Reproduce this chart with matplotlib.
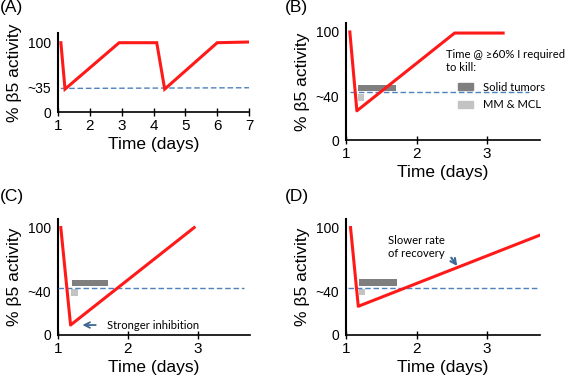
import matplotlib
matplotlib.use('Agg')
from matplotlib import pyplot as plt
from matplotlib.patches import Patch

plt.rcParams['font.family'] = ['Liberation Sans', 'DejaVu Sans']
note_font = ['Lato', 'DejaVu Sans']
note_size = 8.1

# red activity curves
a_days = [1.09, 1.22, 2.92, 4.10, 4.35, 6.0, 7.0]
a_activity = [100, 33, 100, 100, 33, 100, 101]
b_days = [1.05, 1.15, 2.54, 3.23]
b_activity = [100, 27, 99, 99]
c_days = [1.04, 1.18, 2.95]
c_activity = [100, 9, 100]
d_days = [1.06, 1.17, 3.93]
d_activity = [100, 26.5, 97.5]

# blue dashed threshold lines (x span, level)
a_thresh_x = [1.09, 7.0]
a_thresh_y = [34, 35]
bcd_thresh_level = 44
b_thresh_x = [1.05, 3.6]
c_thresh_x = [1.0, 3.67]
d_thresh_x = [1.02, 3.75]

# gray "time required to kill" bars: start, end, low, high
solid_bar = {'B': (1.17, 1.71, 45, 51), 'C': (1.20, 1.72, 45, 50.6), 'D': (1.18, 1.72, 45, 52)}
mm_bar = {'B': (1.17, 1.25, 36.5, 43), 'C': (1.19, 1.28, 36, 43), 'D': (1.18, 1.26, 37, 43)}

a_xticks = [1, 2, 3, 4, 5, 6, 7]
bcd_xticks = [1, 2, 3]
a_yticks = [0, 35, 100]
a_yticklabels = ['0', '~35', '100']
bcd_yticks = [0, 40, 100]
bcd_yticklabels = ['0', '~40', '100']

red = '#ff1a1a'
blue = '#4f81bd'
dark_gray = '#7f7f7f'
light_gray = '#c3c3c3'
arrow_blue = '#3d6796'

fig = plt.figure(figsize=(5.67, 3.78), dpi=100)
ax_a = fig.add_axes([0.1023, 0.7037, 0.337, 0.209])
ax_b = fig.add_axes([0.6108, 0.6296, 0.341, 0.3087])
ax_c = fig.add_axes([0.1023, 0.1146, 0.3386, 0.306])
ax_d = fig.add_axes([0.6108, 0.1146, 0.341, 0.306])


def style(ax, xticks, xlim, yticks, yticklabels, ymax):
    ax.set_xlim(*xlim)
    ax.set_ylim(0, ymax)
    ax.set_xticks(xticks)
    ax.set_yticks(yticks)
    ax.set_yticklabels(yticklabels)
    for side in ['top', 'right']:
        ax.spines[side].set_visible(False)
    ax.spines['left'].set_linewidth(1.5)
    ax.spines['bottom'].set_linewidth(1.2)
    ax.tick_params(axis='x', direction='inout', length=6, width=1, labelsize=11, pad=2)
    ax.tick_params(axis='y', length=0, labelsize=10, pad=5)
    ax.set_xlabel('Time (days)', fontsize=12.5, labelpad=3)
    ax.set_ylabel('% β5 activity', fontsize=12.5, labelpad=4)


style(ax_a, a_xticks, (1, 7), a_yticks, a_yticklabels, 114)
ax_a.plot(a_thresh_x, a_thresh_y, color=blue, lw=1, ls=(0, (4, 2)))
ax_a.plot(a_days, a_activity, color=red, lw=2.2, solid_joinstyle='miter')

panels = [('B', ax_b, b_days, b_activity, b_thresh_x),
          ('C', ax_c, c_days, c_activity, c_thresh_x),
          ('D', ax_d, d_days, d_activity, d_thresh_x)]
for name, ax, days, act, tx in panels:
    style(ax, bcd_xticks, (1, 3.75), bcd_yticks, bcd_yticklabels, 108)
    x0, x1, y0, y1 = solid_bar[name]
    ax.bar(x0, y1 - y0, width=x1 - x0, bottom=y0, align='edge', color=dark_gray, zorder=2)
    x0, x1, y0, y1 = mm_bar[name]
    ax.bar(x0, y1 - y0, width=x1 - x0, bottom=y0, align='edge', color=light_gray, zorder=2)
    ax.plot(tx, [bcd_thresh_level] * 2, color=blue, lw=1, ls=(0, (4, 2)), zorder=3)
    ax.plot(days, act, color=red, lw=2.2, zorder=4)

# legend in panel B
ax_b.text(0.515, 0.78, 'Time @ ≥60% I required\nto kill:', transform=ax_b.transAxes,
          fontsize=note_size, family=note_font, ha='left', va='top', linespacing=1.25)
handles = [Patch(color=dark_gray, label='Solid tumors'), Patch(color=light_gray, label='MM & MCL')]
ax_b.legend(handles=handles, loc='upper left', bbox_to_anchor=(0.578, 0.50), frameon=False,
            prop={'family': note_font, 'size': note_size}, borderpad=0, borderaxespad=0,
            handlelength=1.35, handleheight=0.65, handletextpad=0.9, labelspacing=0.6)

# annotations
ax_c.annotate('', xy=(1.31, 9), xytext=(1.58, 9),
              arrowprops=dict(arrowstyle='->', color=arrow_blue, lw=1.3))
ax_c.text(1.7, 9, 'Stronger inhibition', fontsize=note_size, family=note_font, ha='left', va='center')
ax_d.text(1.59, 93, 'Slower rate\nof recovery', fontsize=note_size, family=note_font,
          ha='left', va='top', linespacing=1.25)
ax_d.annotate('', xy=(2.60, 62), xytext=(2.47, 74),
              arrowprops=dict(arrowstyle='->', color=arrow_blue, lw=1.5))

# panel letters
for label, x, y in [('(A)', 0.0, 1.0), ('(B)', 0.503, 1.0), ('(C)', 0.0, 0.5), ('(D)', 0.503, 0.5)]:
    fig.text(x, y, label, fontsize=12.5, ha='left', va='top')

fig.savefig('out.png', dpi=100)
